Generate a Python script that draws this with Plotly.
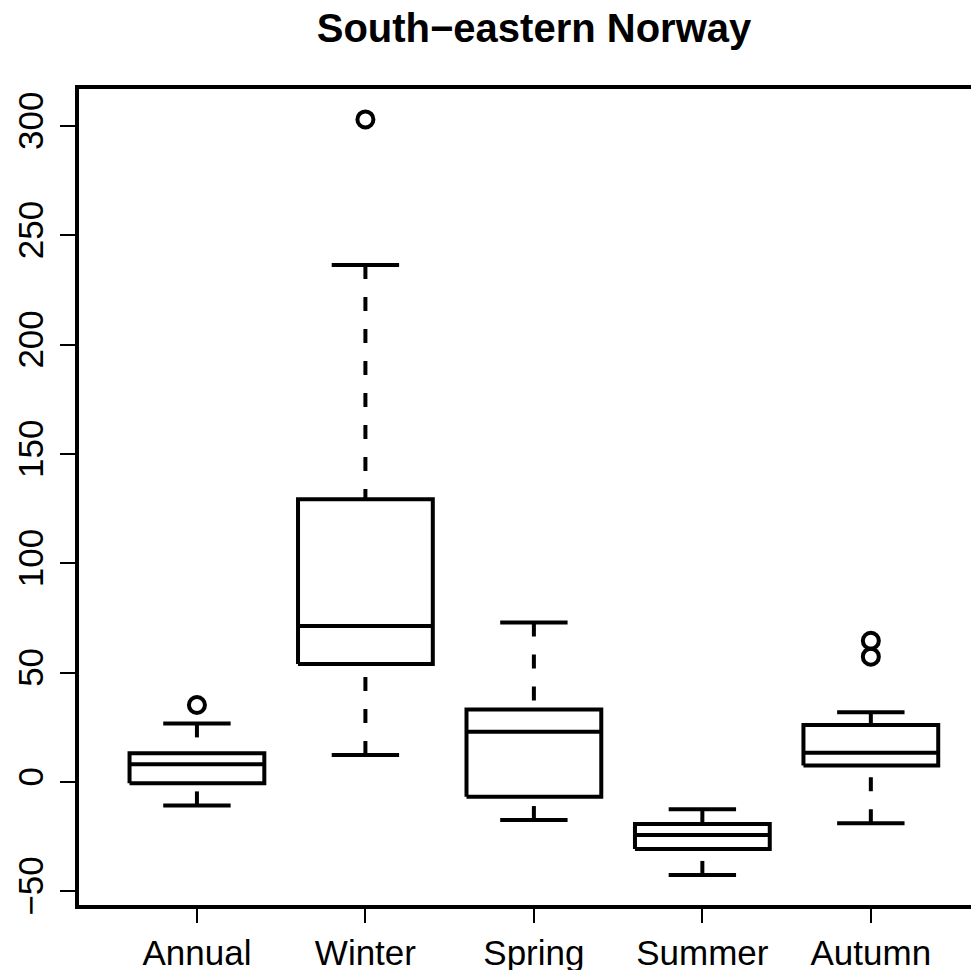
import plotly.graph_objects as go

seasons = ["Annual", "Winter", "Spring", "Summer", "Autumn"]
lower_whisker = [-10.7, 12.3, -17.4, -42.5, -18.9]
q1 = [-0.6, 54.0, -6.7, -30.6, 7.5]
median = [8.1, 71.3, 23.0, -24.2, 13.4]
q3 = [13.1, 129.3, 33.2, -19.2, 26.1]
upper_whisker = [26.8, 236.4, 72.9, -12.5, 31.9]

outlier_season = ["Annual", "Winter", "Autumn", "Autumn"]
outlier_value = [35.2, 303.0, 64.6, 57.3]

y_ticks = [-50, 0, 50, 100, 150, 200, 250, 300]

BOX_HALF = 0.4
CAP_HALF = 0.2
LW = 4
FONT = "Liberation Sans, Arial, Helvetica, sans-serif"

# the page body adds an 8px margin, so the figure is 8px smaller than the window
W, H = 971, 962

pos = {s: i + 1 for i, s in enumerate(seasons)}

box_x, box_y = [], []
med_x, med_y = [], []
cap_x, cap_y = [], []
for i, s in enumerate(seasons):
    p = pos[s]
    box_x += [p - BOX_HALF, p + BOX_HALF, p + BOX_HALF, p - BOX_HALF, p - BOX_HALF, None]
    box_y += [q1[i], q1[i], q3[i], q3[i], q1[i], None]
    med_x += [p - BOX_HALF, p + BOX_HALF, None]
    med_y += [median[i], median[i], None]
    for w in (lower_whisker[i], upper_whisker[i]):
        cap_x += [p - CAP_HALF, p + CAP_HALF, None]
        cap_y += [w, w, None]

fig = go.Figure()

# dashed whiskers, drawn from the whisker end towards the box (like R)
for i, s in enumerate(seasons):
    p = pos[s]
    for a, b in ((lower_whisker[i], q1[i]), (upper_whisker[i], q3[i])):
        fig.add_trace(go.Scatter(
            x=[p, p], y=[a, b], mode="lines",
            line=dict(color="black", width=LW, dash="14px,18px"),
            hoverinfo="skip", showlegend=False,
        ))

fig.add_trace(go.Scatter(x=cap_x, y=cap_y, mode="lines",
                         line=dict(color="black", width=LW),
                         hoverinfo="skip", showlegend=False))
fig.add_trace(go.Scatter(x=box_x, y=box_y, mode="lines",
                         line=dict(color="black", width=LW),
                         fill="toself", fillcolor="white",
                         hoverinfo="skip", showlegend=False))
fig.add_trace(go.Scatter(x=med_x, y=med_y, mode="lines",
                         line=dict(color="black", width=LW),
                         hoverinfo="skip", showlegend=False))
fig.add_trace(go.Scatter(
    x=[pos[s] for s in outlier_season], y=outlier_value, mode="markers",
    marker=dict(symbol="circle-open", size=16, color="black", line=dict(width=4)),
    hoverinfo="skip", showlegend=False,
))

fig.update_layout(
    width=W, height=H,
    margin=dict(l=71, r=0, t=81, b=65),
    paper_bgcolor="white", plot_bgcolor="white",
    font=dict(family=FONT, size=35, color="black"),
    title=dict(
        text="<b>South−eastern Norway</b>",
        font=dict(family=FONT, size=40, color="black"),
        xref="container", x=526 / W, xanchor="center",
        yref="container", y=1 - 19.5 / H, yanchor="middle",
    ),
    xaxis=dict(
        range=[0.3, 5.642], automargin=False,
        tickmode="array", tickvals=[pos[s] for s in seasons], ticktext=seasons,
        showgrid=False, zeroline=False,
        showline=True, linecolor="black", linewidth=LW, mirror=True,
        ticks="outside", ticklen=14, tickwidth=2, tickcolor="black",
    ),
    yaxis=dict(
        range=[-56.25, 316.9], automargin=False,
        tickmode="array", tickvals=y_ticks,
        tickangle=-90, ticklabelstandoff=3,
        showgrid=False, zeroline=False,
        showline=True, linecolor="black", linewidth=LW,
        ticks="outside", ticklen=15, tickwidth=2, tickcolor="black",
    ),
)

fig.write_html("out.html")
